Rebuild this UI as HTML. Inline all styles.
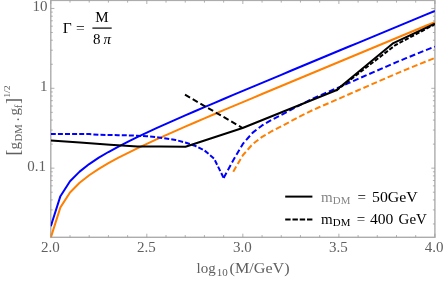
<!DOCTYPE html>
<html><head><meta charset="utf-8">
<style>
html,body{margin:0;padding:0;background:#fff;}
body{width:446px;height:281px;overflow:hidden;font-family:"Liberation Serif",serif;}
svg{display:block;filter:blur(0.3px)}
text{font-family:"Liberation Serif",serif;}
</style></head><body>
<svg width="446" height="281" viewBox="0 0 446 281">
<rect width="446" height="281" fill="#fff"/>
<defs><clipPath id="cp"><rect x="50.8" y="0.4" width="384.09999999999997" height="236.9"/></clipPath></defs>
<!-- frame -->
<rect x="50.8" y="0.4" width="384.10" height="236.90" fill="none" stroke="#acacac" stroke-width="1.4"/>
<g stroke="#9c9c9c" stroke-width="0.8"><line x1="50.80" y1="237.30" x2="50.80" y2="233.70"/><line x1="50.80" y1="0.40" x2="50.80" y2="4.00"/><line x1="70.01" y1="237.30" x2="70.01" y2="235.10"/><line x1="70.01" y1="0.40" x2="70.01" y2="2.60"/><line x1="89.21" y1="237.30" x2="89.21" y2="235.10"/><line x1="89.21" y1="0.40" x2="89.21" y2="2.60"/><line x1="108.41" y1="237.30" x2="108.41" y2="235.10"/><line x1="108.41" y1="0.40" x2="108.41" y2="2.60"/><line x1="127.62" y1="237.30" x2="127.62" y2="235.10"/><line x1="127.62" y1="0.40" x2="127.62" y2="2.60"/><line x1="146.82" y1="237.30" x2="146.82" y2="233.70"/><line x1="146.82" y1="0.40" x2="146.82" y2="4.00"/><line x1="166.03" y1="237.30" x2="166.03" y2="235.10"/><line x1="166.03" y1="0.40" x2="166.03" y2="2.60"/><line x1="185.24" y1="237.30" x2="185.24" y2="235.10"/><line x1="185.24" y1="0.40" x2="185.24" y2="2.60"/><line x1="204.44" y1="237.30" x2="204.44" y2="235.10"/><line x1="204.44" y1="0.40" x2="204.44" y2="2.60"/><line x1="223.64" y1="237.30" x2="223.64" y2="235.10"/><line x1="223.64" y1="0.40" x2="223.64" y2="2.60"/><line x1="242.85" y1="237.30" x2="242.85" y2="233.70"/><line x1="242.85" y1="0.40" x2="242.85" y2="4.00"/><line x1="262.06" y1="237.30" x2="262.06" y2="235.10"/><line x1="262.06" y1="0.40" x2="262.06" y2="2.60"/><line x1="281.26" y1="237.30" x2="281.26" y2="235.10"/><line x1="281.26" y1="0.40" x2="281.26" y2="2.60"/><line x1="300.46" y1="237.30" x2="300.46" y2="235.10"/><line x1="300.46" y1="0.40" x2="300.46" y2="2.60"/><line x1="319.67" y1="237.30" x2="319.67" y2="235.10"/><line x1="319.67" y1="0.40" x2="319.67" y2="2.60"/><line x1="338.88" y1="237.30" x2="338.88" y2="233.70"/><line x1="338.88" y1="0.40" x2="338.88" y2="4.00"/><line x1="358.08" y1="237.30" x2="358.08" y2="235.10"/><line x1="358.08" y1="0.40" x2="358.08" y2="2.60"/><line x1="377.29" y1="237.30" x2="377.29" y2="235.10"/><line x1="377.29" y1="0.40" x2="377.29" y2="2.60"/><line x1="396.49" y1="237.30" x2="396.49" y2="235.10"/><line x1="396.49" y1="0.40" x2="396.49" y2="2.60"/><line x1="415.70" y1="237.30" x2="415.70" y2="235.10"/><line x1="415.70" y1="0.40" x2="415.70" y2="2.60"/><line x1="434.90" y1="237.30" x2="434.90" y2="233.70"/><line x1="434.90" y1="0.40" x2="434.90" y2="4.00"/><line x1="50.80" y1="223.96" x2="52.80" y2="223.96"/><line x1="434.90" y1="223.96" x2="432.90" y2="223.96"/><line x1="50.80" y1="209.90" x2="52.80" y2="209.90"/><line x1="434.90" y1="209.90" x2="432.90" y2="209.90"/><line x1="50.80" y1="199.93" x2="52.80" y2="199.93"/><line x1="434.90" y1="199.93" x2="432.90" y2="199.93"/><line x1="50.80" y1="192.19" x2="52.80" y2="192.19"/><line x1="434.90" y1="192.19" x2="432.90" y2="192.19"/><line x1="50.80" y1="185.86" x2="52.80" y2="185.86"/><line x1="434.90" y1="185.86" x2="432.90" y2="185.86"/><line x1="50.80" y1="180.52" x2="52.80" y2="180.52"/><line x1="434.90" y1="180.52" x2="432.90" y2="180.52"/><line x1="50.80" y1="175.89" x2="52.80" y2="175.89"/><line x1="434.90" y1="175.89" x2="432.90" y2="175.89"/><line x1="50.80" y1="171.80" x2="52.80" y2="171.80"/><line x1="434.90" y1="171.80" x2="432.90" y2="171.80"/><line x1="50.80" y1="168.15" x2="54.40" y2="168.15"/><line x1="434.90" y1="168.15" x2="431.30" y2="168.15"/><line x1="50.80" y1="144.11" x2="52.80" y2="144.11"/><line x1="434.90" y1="144.11" x2="432.90" y2="144.11"/><line x1="50.80" y1="130.05" x2="52.80" y2="130.05"/><line x1="434.90" y1="130.05" x2="432.90" y2="130.05"/><line x1="50.80" y1="120.08" x2="52.80" y2="120.08"/><line x1="434.90" y1="120.08" x2="432.90" y2="120.08"/><line x1="50.80" y1="112.34" x2="52.80" y2="112.34"/><line x1="434.90" y1="112.34" x2="432.90" y2="112.34"/><line x1="50.80" y1="106.01" x2="52.80" y2="106.01"/><line x1="434.90" y1="106.01" x2="432.90" y2="106.01"/><line x1="50.80" y1="100.67" x2="52.80" y2="100.67"/><line x1="434.90" y1="100.67" x2="432.90" y2="100.67"/><line x1="50.80" y1="96.04" x2="52.80" y2="96.04"/><line x1="434.90" y1="96.04" x2="432.90" y2="96.04"/><line x1="50.80" y1="91.95" x2="52.80" y2="91.95"/><line x1="434.90" y1="91.95" x2="432.90" y2="91.95"/><line x1="50.80" y1="88.30" x2="54.40" y2="88.30"/><line x1="434.90" y1="88.30" x2="431.30" y2="88.30"/><line x1="50.80" y1="64.26" x2="52.80" y2="64.26"/><line x1="434.90" y1="64.26" x2="432.90" y2="64.26"/><line x1="50.80" y1="50.20" x2="52.80" y2="50.20"/><line x1="434.90" y1="50.20" x2="432.90" y2="50.20"/><line x1="50.80" y1="40.23" x2="52.80" y2="40.23"/><line x1="434.90" y1="40.23" x2="432.90" y2="40.23"/><line x1="50.80" y1="32.49" x2="52.80" y2="32.49"/><line x1="434.90" y1="32.49" x2="432.90" y2="32.49"/><line x1="50.80" y1="26.16" x2="52.80" y2="26.16"/><line x1="434.90" y1="26.16" x2="432.90" y2="26.16"/><line x1="50.80" y1="20.82" x2="52.80" y2="20.82"/><line x1="434.90" y1="20.82" x2="432.90" y2="20.82"/><line x1="50.80" y1="16.19" x2="52.80" y2="16.19"/><line x1="434.90" y1="16.19" x2="432.90" y2="16.19"/><line x1="50.80" y1="12.10" x2="52.80" y2="12.10"/><line x1="434.90" y1="12.10" x2="432.90" y2="12.10"/><line x1="50.80" y1="8.45" x2="54.40" y2="8.45"/><line x1="434.90" y1="8.45" x2="431.30" y2="8.45"/></g>
<!-- curves -->
<g fill="none" stroke-width="2" stroke-linejoin="round" clip-path="url(#cp)">
<path stroke="#ff7f00" d="M50.80,237.60 L60.40,207.37 L70.01,192.43 L79.61,182.79 L89.21,175.28 L98.81,168.90 L108.41,163.21 L118.02,157.97 L127.62,153.04 L137.22,148.33 L146.82,143.79 L156.43,139.38 L166.03,135.06 L175.63,130.81 L185.24,126.61 L194.84,122.46 L204.44,118.34 L214.04,114.25 L223.64,110.18 L233.25,106.13 L242.85,102.08 L252.45,98.05 L262.06,94.03 L271.66,90.01 L281.26,86.00 L290.86,81.99 L300.46,77.99 L310.07,73.99 L319.67,69.99 L329.27,65.99 L338.88,61.99 L348.48,57.99 L358.08,54.00 L367.68,50.00 L377.29,46.01 L386.89,42.01 L396.49,38.02 L406.09,34.03 L415.70,30.03 L425.30,26.04 L434.90,22.05"/>
<path stroke="#0000ff" d="M50.80,226.30 L60.40,196.17 L70.01,181.23 L79.61,171.59 L89.21,164.08 L98.81,157.70 L108.41,152.01 L118.02,146.77 L127.62,141.84 L137.22,137.13 L146.82,132.59 L156.43,128.18 L166.03,123.86 L175.63,119.61 L185.24,115.41 L194.84,111.26 L204.44,107.14 L214.04,103.05 L223.64,98.98 L233.25,94.93 L242.85,90.88 L252.45,86.85 L262.06,82.83 L271.66,78.81 L281.26,74.80 L290.86,70.79 L300.46,66.79 L310.07,62.79 L319.67,58.79 L329.27,54.79 L338.88,50.79 L348.48,46.79 L358.08,42.80 L367.68,38.80 L377.29,34.81 L386.89,30.81 L396.49,26.82 L406.09,22.83 L415.70,18.83 L425.30,14.84 L434.90,10.85"/>
<path stroke="#0000ff" stroke-dasharray="5,2.1" d="M50.80,134.10 L60.40,134.10 L70.01,134.10 L79.61,134.10 L89.21,134.10 L98.81,134.85 L108.41,134.98 L118.02,135.14 L127.62,135.34 L137.22,135.69 L146.82,136.24 L156.43,137.21 L166.03,138.44 L175.63,139.98 L185.24,142.50 L194.84,145.70 L204.44,150.41 L214.04,158.49 L223.64,177.90"/>
<path stroke="#0000ff" stroke-dasharray="5.9,2.9" d="M223.64,177.90 L233.25,160.30 L242.85,143.88 L252.45,132.90 L262.06,125.46 L271.66,119.86 L281.26,114.92 L290.86,109.82 L300.46,104.78 L310.07,99.89 L319.67,95.57 L329.27,91.51 L338.88,87.30 L348.48,83.08 L358.08,78.89 L367.68,74.71 L377.29,70.51 L386.89,66.31 L396.49,62.19 L406.09,58.19 L415.70,54.25 L425.30,50.38 L434.90,46.60"/>
<path stroke="#ff7f00" stroke-dasharray="5.9,2.9" d="M233.25,171.70 L242.85,155.28 L252.45,144.30 L262.06,136.86 L271.66,131.26 L281.26,126.32 L290.86,121.22 L300.46,116.18 L310.07,111.29 L319.67,106.97 L329.27,102.91 L338.88,98.70 L348.48,94.48 L358.08,90.29 L367.68,86.11 L377.29,81.91 L386.89,77.71 L396.49,73.59 L406.09,69.59 L415.70,65.65 L425.30,61.78 L434.90,58.00"/>
<path stroke="#000" d="M50.80,140.50 L80.00,142.60 L110.00,144.80 L125.70,145.80 L137.40,146.40 L160.00,146.60 L185.50,146.70 L242.60,128.00 L336.20,90.30 L393.40,43.10 L434.90,23.70"/>
<path stroke="#000" stroke-dasharray="5.8,3.1" d="M185.00,94.70 L242.60,128.00"/>
<path stroke="#000" stroke-dasharray="4.2,1.9" d="M336.20,90.60 L395.50,45.00 L434.90,24.20"/>
</g>
<!-- tick labels -->
<g fill="#606060" font-size="15">
<text x="47.6" y="11.2" text-anchor="end">10</text>
<text x="47.6" y="91.3" text-anchor="end">1</text>
<text x="46" y="171.2" text-anchor="end">0.1</text>
<text x="50.3" y="252" text-anchor="middle">2.0</text>
<text x="146.3" y="252" text-anchor="middle">2.5</text>
<text x="242.3" y="252" text-anchor="middle">3.0</text>
<text x="338.3" y="252" text-anchor="middle">3.5</text>
<text x="434" y="252" text-anchor="middle">4.0</text>
<text x="196.6" y="273.4">log</text>
<text x="216.8" y="276.4" font-size="11" textLength="11" lengthAdjust="spacingAndGlyphs">10</text>
<text x="229.6" y="273.4" textLength="60" lengthAdjust="spacingAndGlyphs">(M/GeV)</text>
</g>
<g fill="#606060" font-size="15" transform="translate(18.9,153.8) rotate(-90)">
<text x="-1.6" y="0" font-size="18">[</text>
<text x="4.2" y="0">g</text>
<text x="12.4" y="3" font-size="10.5" textLength="17" lengthAdjust="spacingAndGlyphs">DM</text>
<text x="32.6" y="0">.</text>
<text x="38.2" y="0">g</text>
<text x="45.6" y="3" font-size="10.5">f</text>
<text x="49.9" y="0" font-size="18">]</text>
<text x="56" y="-8.6" font-size="9" textLength="12.6" lengthAdjust="spacingAndGlyphs">1/2</text>
</g>
<!-- Gamma -->
<g fill="#000" font-size="15.5">
<text x="62.8" y="32.8">Γ</text>
<text x="76" y="32.8">=</text>
<text x="101.9" y="21.9" text-anchor="middle" font-size="15">M</text>
<line x1="92.4" x2="111.7" y1="28.1" y2="28.1" stroke="#000" stroke-width="1.2"/>
<text x="93" y="44.3" font-size="15">8</text>
<text x="103.6" y="44.3" font-size="15" font-style="italic">π</text>
</g>
<!-- legend -->
<g stroke="#000" stroke-width="2">
<line x1="285.2" x2="312.4" y1="196.6" y2="196.6"/>
<line x1="285.2" x2="312.4" y1="219.5" y2="219.5" stroke-dasharray="5.4,1.87"/>
</g>
<g font-size="15" fill="#000">
<text x="321" y="201.6" fill="#858585">m</text>
<text x="332.8" y="204.3" font-size="11" fill="#858585" textLength="17.5" lengthAdjust="spacingAndGlyphs">DM</text>
<text x="357.4" y="201.6">=</text>
<text x="372" y="201.6" textLength="45.6" lengthAdjust="spacingAndGlyphs">50GeV</text>
<text x="321" y="223.6">m</text>
<text x="332.8" y="226.4" font-size="11" textLength="17.5" lengthAdjust="spacingAndGlyphs">DM</text>
<text x="356.8" y="223.6">=</text>
<text x="370" y="223.6" textLength="23.4" lengthAdjust="spacingAndGlyphs">400</text>
<text x="398.6" y="223.6" textLength="28.2" lengthAdjust="spacingAndGlyphs">GeV</text>
</g>
</svg>
</body></html>
